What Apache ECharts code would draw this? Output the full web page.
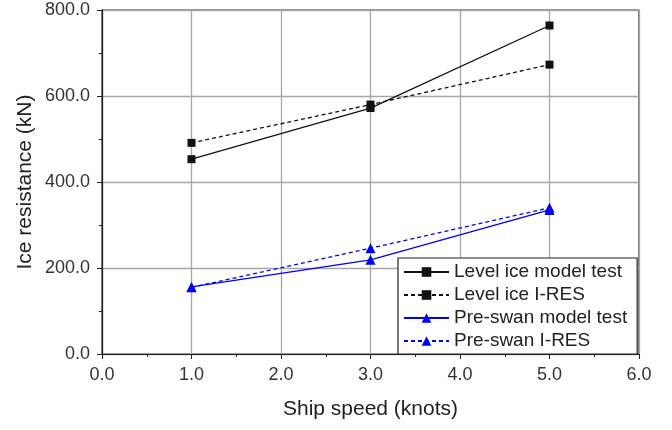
<!DOCTYPE html>
<html>
<head>
<meta charset="utf-8">
<script src="https://cdn.jsdelivr.net/npm/echarts@6/dist/echarts.min.js"></script>
<style>
  html, body { margin: 0; padding: 0; background: #fff; }
  .charts { width: 672px; height: 430px; }
</style>
</head>
<body>
<div class="charts"></div>
<script>
var speeds = [1, 3, 5];
var levelModel = [453, 572, 764];
var levelIres = [491, 580, 673];
var swanModel = [156, 219, 335];
var swanIres = [155, 246, 340];

var charts = document.querySelector('.charts');
var myChart = echarts.init(charts, null, {renderer: 'canvas'});

var FONT = 'Liberation Sans';

function pts(vals) {
    return speeds.map(function (s, i) { return [s, vals[i]]; });
}

function line(name, vals, color, dashed, symbol, size) {
    return {
        name: name,
        type: 'line',
        data: pts(vals),
        symbol: symbol,
        symbolSize: size,
        color: color,
        itemStyle: {color: color},
        lineStyle: {color: color, width: 1.3, type: dashed ? [4, 3] : 'solid'},
        z: dashed ? 3 : 4
    };
}

var axisLabelStyle = {color: '#333', fontFamily: FONT, fontSize: 18};

var option = {
    animation: false,
    backgroundColor: '#fff',
    grid: {
        left: 102, right: 33, top: 10, bottom: 76,
        show: true, borderColor: '#222', borderWidth: 1.2
    },
    legend: {
        orient: 'vertical',
        left: 398,
        top: 258,
        padding: [4, 10, 3, 5],
        itemWidth: 45,
        itemHeight: 12,
        itemGap: 3,
        backgroundColor: '#fff',
        borderColor: '#222',
        borderWidth: 1.2,
        borderRadius: 0,
        textStyle: {color: '#222', fontFamily: FONT, fontSize: 19, lineHeight: 20},
        data: ['Level ice model test', 'Level ice I-RES', 'Pre-swan model test', 'Pre-swan I-RES']
    },
    xAxis: {
        type: 'value',
        min: 0, max: 6, interval: 1,
        name: 'Ship speed (knots)',
        nameLocation: 'middle',
        nameGap: 45,
        nameMoveOverlap: false,
        nameTextStyle: {color: '#222', fontFamily: FONT, fontSize: 21},
        axisLine: {show: true, lineStyle: {color: '#222', width: 1.2}},
        axisTick: {show: true, length: 5, lineStyle: {color: '#222'}},
        minorTick: {show: true, splitNumber: 2, length: 3, lineStyle: {color: '#222'}},
        splitLine: {show: true, lineStyle: {color: '#a6a6a6', width: 1.3}},
        axisLabel: Object.assign({margin: 12, formatter: function (v) { return v.toFixed(1); }}, axisLabelStyle)
    },
    yAxis: {
        type: 'value',
        min: 0, max: 800, interval: 200,
        name: 'Ice resistance (kN)',
        nameLocation: 'middle',
        nameGap: 66,
        nameMoveOverlap: false,
        nameTextStyle: {color: '#222', fontFamily: FONT, fontSize: 21},
        axisLine: {show: true, lineStyle: {color: '#222', width: 1.2}},
        axisTick: {show: true, length: 5, lineStyle: {color: '#222'}},
        minorTick: {show: true, splitNumber: 2, length: 3, lineStyle: {color: '#222'}},
        splitLine: {show: true, lineStyle: {color: '#a6a6a6', width: 1.3}},
        axisLabel: Object.assign({margin: 12, formatter: function (v) { return v.toFixed(1); }}, axisLabelStyle)
    },
    series: [
        line('Level ice model test', levelModel, '#111', false, 'rect', 8),
        line('Level ice I-RES', levelIres, '#111', true, 'rect', 8),
        line('Pre-swan model test', swanModel, '#0000ff', false, 'triangle', 10),
        line('Pre-swan I-RES', swanIres, '#0000ff', true, 'triangle', 10)
    ]
};

myChart.setOption(option);
</script>
</body>
</html>
